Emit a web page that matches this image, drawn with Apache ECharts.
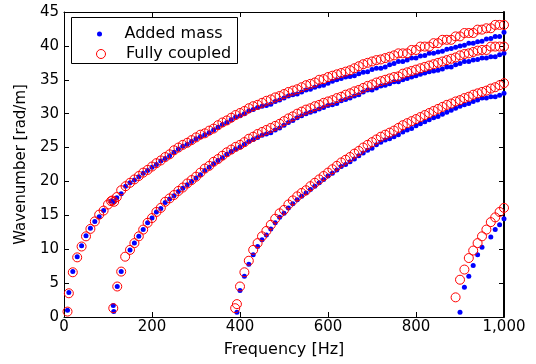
<!DOCTYPE html>
<html>
<head>
<meta charset="utf-8">
<script src="https://cdn.jsdelivr.net/npm/echarts@6/dist/echarts.min.js"></script>
<style>html,body{margin:0;padding:0;background:#fff;}#c{width:536px;height:364px;}</style>
</head>
<body>
<div id="c"></div>
<script>
// ---- Data ----
const xTicks = [0, 200, 400, 600, 800, 1000];
const yTicks = [0, 5, 10, 15, 20, 25, 30, 35, 40, 45];

// Branch 1
const freq1 = [8, 11, 20, 30, 40, 50, 60, 70, 80, 90, 100, 107, 110, 114, 120, 130,
  140, 150, 160, 170, 180, 190, 200, 210, 220, 230, 240, 250, 260, 270, 280, 290, 300,
  310, 320, 330, 340, 350, 360, 370, 380, 390, 400, 410, 420, 430, 440, 450, 460, 470,
  480, 490, 500, 510, 520, 530, 540, 550, 560, 570, 580, 590, 600, 610, 620, 630, 640,
  650, 660, 670, 680, 690, 700, 710, 720, 730, 740, 750, 760, 770, 780, 790, 800, 810,
  820, 830, 840, 850, 860, 870, 880, 890, 900, 910, 920, 930, 940, 950, 960, 970, 980,
  990, 1000];
const addedMass1 = [1.0, 3.6, 6.7, 8.9, 10.5, 12.0, 13.1, 14.1, 14.8, 15.7, null, 17.1, 17.1, 17.0, 17.6, 18.2,
  19.3, 19.8, 20.2, 20.7, 21.2, 21.6, 22.1, 22.5, 23.0, 23.4, 23.8, 24.3, 24.8, 25.2, 25.5, 25.9, 26.3,
  26.6, 26.9, 27.2, 27.6, 28.0, 28.4, 28.7, 29.1, 29.5, 29.7, 30.0, 30.4, 30.6, 30.9, 31.1, 31.2, 31.4,
  31.8, 32.0, 32.3, 32.6, 32.8, 32.9, 33.2, 33.5, 33.6, 33.9, 34.1, 34.2, 34.5, 34.8, 35.0, 35.2, 35.4,
  35.5, 35.6, 35.9, 36.1, 36.2, 36.5, 36.7, 36.7, 36.9, 37.2, 37.4, 37.7, 37.7, 37.9, 38.2, 38.2, 38.5,
  38.6, 38.9, 38.9, 39.1, 39.2, 39.5, 39.6, 39.8, 40.0, 40.1, 40.4, 40.4, 40.6, 40.7, 41.0, 41.1, 41.4,
  41.4, 42.0];
const fullyCoupled1 = [0.8, 3.5, 6.6, 8.8, 10.4, 11.9, 13.0, 14.1, 15.1, 15.7, 16.6, 17.1, 17.2, 17.0, 17.7, 18.7,
  19.3, 19.8, 20.3, 20.8, 21.3, 21.7, 22.2, 22.7, 23.1, 23.6, 24.0, 24.6, 25.0, 25.4, 25.7, 26.1, 26.5,
  26.9, 27.1, 27.5, 27.8, 28.3, 28.7, 29.0, 29.4, 29.8, 30.1, 30.4, 30.8, 31.1, 31.3, 31.6, 31.9, 32.1,
  32.4, 32.6, 32.9, 33.2, 33.4, 33.6, 33.9, 34.2, 34.4, 34.6, 35.0, 35.1, 35.4, 35.6, 35.8, 36.0, 36.2,
  36.4, 36.7, 37.0, 37.3, 37.5, 37.7, 37.9, 38.0, 38.2, 38.4, 38.6, 38.9, 38.9, 38.9, 39.4, 39.4, 39.9,
  39.9, 39.9, 40.4, 40.4, 40.9, 40.9, 40.9, 41.4, 41.4, 41.9, 41.9, 41.9, 42.4, 42.4, 42.6, 42.6, 43.1,
  43.1, 43.1];

// Branch 2
const freq2 = [112, 113, 121, 130, 139, 150, 160, 170, 180, 190, 200, 210, 220, 230, 240, 250,
  260, 270, 280, 290, 300, 310, 320, 330, 340, 350, 360, 370, 380, 390, 400, 410, 420, 430,
  440, 450, 460, 470, 480, 490, 500, 510, 520, 530, 540, 550, 560, 570, 580, 590, 600, 610,
  620, 630, 640, 650, 660, 670, 680, 690, 700, 710, 720, 730, 740, 750, 760, 770, 780, 790,
  800, 810, 820, 830, 840, 850, 860, 870, 880, 890, 900, 910, 920, 930, 940, 950, 960, 970,
  980, 990, 1000];
const addedMass2 = [1.7, 0.8, 4.5, 6.7, null, 9.9, 10.9, 11.9, 12.9, 13.9, 14.6, 15.5, 16.0, 16.9, 17.4, 17.9,
  18.5, 19.0, 19.5, 20.0, 20.5, 21.0, 21.6, 22.1, 22.6, 23.1, 23.5, 24.0, 24.4, 24.8, 25.1, 25.5, 25.9, 26.2,
  26.5, 26.8, 27.0, 27.2, 27.6, 27.9, 28.3, 28.7, 29.0, 29.4, 29.7, 30.0, 30.2, 30.4, 30.7, 30.9, 31.2, 31.3,
  31.5, 31.9, 32.1, 32.3, 32.6, 32.8, 33.2, 33.5, 33.5, 33.8, 34.1, 34.2, 34.4, 34.7, 34.7, 35.0, 35.2, 35.4,
  35.6, 35.8, 36.0, 36.2, 36.3, 36.4, 36.6, 36.9, 36.9, 37.2, 37.4, 37.7, 37.7, 37.9, 38.0, 38.2, 38.2, 38.4,
  38.4, 38.7, 38.9];
const fullyCoupled2 = [1.3, null, 4.5, 6.7, 8.9, 9.9, 10.9, 11.9, 12.9, 13.9, 14.6, 15.5, 16.1, 17.0, 17.5, 18.0,
  18.6, 19.1, 19.7, 20.2, 20.7, 21.3, 21.9, 22.3, 22.9, 23.3, 23.8, 24.3, 24.7, 25.1, 25.4, 25.8, 26.3, 26.6,
  27.0, 27.3, 27.6, 27.9, 28.2, 28.5, 28.9, 29.3, 29.6, 30.0, 30.3, 30.6, 30.8, 31.1, 31.3, 31.6, 31.8, 32.0,
  32.3, 32.5, 32.8, 33.0, 33.3, 33.5, 33.8, 34.1, 34.3, 34.6, 34.8, 35.0, 35.2, 35.4, 35.5, 35.9, 36.1, 36.3,
  36.5, 36.7, 36.9, 37.1, 37.3, 37.5, 37.7, 37.9, 38.1, 38.3, 38.6, 38.8, 38.9, 39.1, 39.3, 39.4, 39.4, 39.9,
  39.9, 39.9, 39.9];

// Branch 3
const freq3 = [389, 393, 400, 410, 420, 430, 440, 450, 460, 470, 480, 490, 500, 510, 520, 530,
  540, 550, 560, 570, 580, 590, 600, 610, 620, 630, 640, 650, 660, 670, 680, 690, 700, 710,
  720, 730, 740, 750, 760, 770, 780, 790, 800, 810, 820, 830, 840, 850, 860, 870, 880, 890,
  900, 910, 920, 930, 940, 950, 960, 970, 980, 990, 1000];
const addedMass3 = [null, 0.7, 3.9, 6.0, 7.8, 9.2, 10.4, 11.4, 12.1, 13.0, 13.9, 14.7, 15.3, 16.1, 16.7, 17.3,
  17.8, 18.3, 18.8, 19.3, 19.8, 20.3, 20.8, 21.2, 21.7, 22.2, 22.5, 22.9, 23.3, 23.8, 24.2, 24.6, 24.9, 25.4,
  25.8, 26.1, 26.3, 26.6, 26.9, 27.3, 27.6, 27.8, 28.2, 28.5, 28.8, 29.1, 29.4, 29.6, 29.9, 30.2, 30.5, 30.8,
  31.1, 31.3, 31.5, 31.8, 32.0, 32.3, 32.3, 32.5, 32.5, 32.7, 33.0];
const fullyCoupled3 = [1.3, 1.9, 4.5, 6.6, 8.3, 9.9, 10.9, 11.9, 12.7, 13.6, 14.5, 15.3, 15.8, 16.6, 17.2, 17.8,
  18.3, 18.7, 19.3, 19.8, 20.3, 20.8, 21.3, 21.8, 22.3, 22.8, 23.2, 23.6, 24.1, 24.5, 25.0, 25.4, 25.8, 26.2,
  26.6, 26.9, 27.2, 27.5, 27.9, 28.3, 28.6, 28.9, 29.2, 29.5, 29.8, 30.1, 30.4, 30.7, 31.0, 31.3, 31.5, 31.8,
  32.0, 32.3, 32.5, 32.8, 33.0, 33.2, 33.4, 33.7, 33.9, 34.2, 34.5];

// Branch 4
const freq4 = [890, 900, 910, 920, 930, 940, 950, 960, 970, 980, 990, 1000];
const addedMass4 = [null, 0.7, 4.4, 6.0, 7.6, 9.2, 10.3, null, 11.8, 12.9, 13.6, 14.5];
const fullyCoupled4 = [2.9, 5.5, 7.0, 8.7, 9.8, 10.9, 11.9, 12.9, 14.0, 14.7, 15.5, 16.1];

const seriesNames = ['Added mass', 'Fully coupled'];
const xTitle = 'Frequency [Hz]';
const yTitle = 'Wavenumber [rad/m]';

// ---- Build ----
function pairs(f, v) {
  const out = [];
  for (let i = 0; i < f.length; i++) if (v[i] !== null && v[i] !== undefined) out.push([f[i], v[i]]);
  return out;
}
const addedData = [].concat(pairs(freq1, addedMass1), pairs(freq2, addedMass2), pairs(freq3, addedMass3), pairs(freq4, addedMass4));
const coupledData = [].concat(pairs(freq1, fullyCoupled1), pairs(freq2, fullyCoupled2), pairs(freq3, fullyCoupled3), pairs(freq4, fullyCoupled4));

const FONT = 'DejaVu Sans';
const lineStyle = { color: '#000', width: 1 };
function xAx(pos, showLabel) {
  return {
    type: 'value', position: pos, min: xTicks[0], max: xTicks[xTicks.length - 1], interval: xTicks[1] - xTicks[0],
    name: showLabel ? xTitle : '', nameLocation: 'middle', nameGap: 25,
    nameTextStyle: { fontFamily: FONT, fontSize: 16, color: '#000' },
    axisLine: { show: true, onZero: false, lineStyle: lineStyle },
    axisTick: { show: true, inside: true, length: 5, lineStyle: lineStyle },
    axisLabel: { show: showLabel, color: '#000', fontFamily: FONT, fontSize: 15, margin: 3 },
    splitLine: { show: false }
  };
}
function yAx(pos, showLabel) {
  return {
    type: 'value', position: pos, min: yTicks[0], max: yTicks[yTicks.length - 1], interval: yTicks[1] - yTicks[0],
    name: showLabel ? yTitle : '', nameLocation: 'middle', nameGap: 33,
    nameTextStyle: { fontFamily: FONT, fontSize: 15, color: '#000' },
    axisLine: { show: true, onZero: false, lineStyle: pos === 'right' ? { color: '#000', width: 2 } : lineStyle },
    axisTick: { show: true, inside: true, length: 5, lineStyle: lineStyle },
    axisLabel: { show: showLabel, color: '#000', fontFamily: FONT, fontSize: 15, margin: 5 },
    splitLine: { show: false }
  };
}

const chart = echarts.init(document.getElementById('c'), null, { renderer: 'canvas' });
chart.setOption({
  animation: false,
  backgroundColor: '#fff',
  grid: { left: 64, right: 32, top: 12, bottom: 47, containLabel: false },
  xAxis: [xAx('bottom', true), xAx('top', false)],
  yAxis: [yAx('left', true), yAx('right', false)],
  graphic: [{
    type: 'rect', z: 10,
    shape: { x: 71.5, y: 17.5, width: 166, height: 46 },
    style: { fill: '#fff', stroke: '#000', lineWidth: 1 }
  }],
  legend: [
    { data: [{ name: seriesNames[0], icon: 'circle', itemStyle: { color: '#0000ff', borderWidth: 0 } }],
      left: 97, top: 26, itemWidth: 40, itemHeight: 5, padding: 0, z: 20, selectedMode: false,
      textStyle: { fontFamily: FONT, fontSize: 16, color: '#000' } },
    { data: [{ name: seriesNames[1], icon: 'circle', itemStyle: { color: 'rgba(0,0,0,0)', borderColor: '#ff0000', borderWidth: 1 } }],
      left: 96, top: 46, itemWidth: 40, itemHeight: 9, padding: 0, z: 20, selectedMode: false,
      textStyle: { fontFamily: FONT, fontSize: 16, color: '#000' } }
  ],
  series: [
    { name: seriesNames[0], type: 'scatter', symbol: 'circle', symbolSize: 5, z: 2,
      itemStyle: { color: '#0000ff', opacity: 1 }, data: addedData },
    { name: seriesNames[1], type: 'scatter', symbol: 'circle', symbolSize: 9, z: 3,
      itemStyle: { color: 'rgba(0,0,0,0)', borderColor: '#ff0000', borderWidth: 1, opacity: 1 }, data: coupledData }
  ]
});
</script>
</body>
</html>
